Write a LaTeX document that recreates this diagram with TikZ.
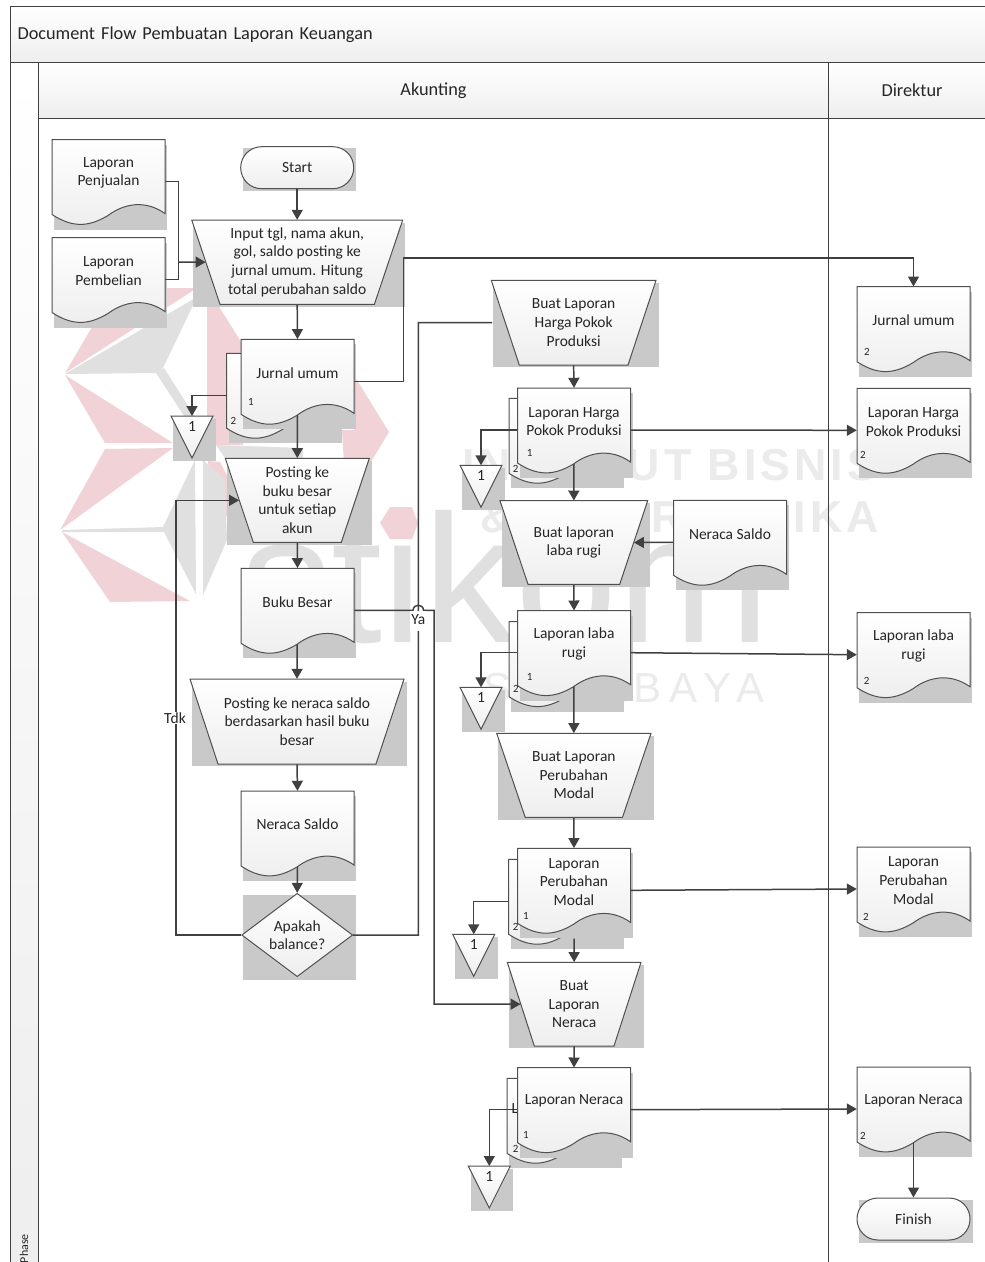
\documentclass[tikz,border=0pt]{standalone}
\usepackage{fontspec}
\setmainfont{Carlito}
\newfontfamily\wmboldfont[LetterSpace=9]{Liberation Sans Bold}
\newfontfamily\wmcityfont[LetterSpace=20]{Liberation Sans}
\newfontfamily\wmlogofont{Liberation Sans}
\usetikzlibrary{arrows.meta,shapes.geometric}
\pgfdeclarelayer{wmlayer}
\pgfdeclarelayer{flowlayer}
\pgfsetlayers{wmlayer,flowlayer,main}
\definecolor{linegray}{HTML}{505050}
\definecolor{flowgray}{HTML}{404040}
\definecolor{shadowgray}{HTML}{C9C9C9}
\definecolor{shapeend}{HTML}{EEEEEE}
\definecolor{wmpink}{HTML}{F1D3D7}
\definecolor{wmgray}{HTML}{E0E0E0}
\definecolor{wmtext}{HTML}{EBEBEB}
\tikzset{
  boxline/.style={draw=linegray,line width=1pt,top color=white,bottom color=shapeend},
  boxshadow/.style={fill=shadowgray},
  boxtext/.style={inner sep=0pt,align=center,text=black!85,font=\fontsize{15.5}{18.6}\selectfont},
  docbox/.style={inner sep=0pt,minimum width=113pt,minimum height=84pt},
  numtext/.style={inner sep=0pt,text=black!85,font=\fontsize{11}{12}\selectfont},
  termbox/.style={boxline,boxtext,rounded corners=20.9pt,minimum width=113pt,minimum height=42pt},
  decisionbox/.style={boxline,boxtext,diamond,aspect=1.33,minimum width=111pt,minimum height=83.4pt},
  lanehead/.style={draw=flowgray,line width=1pt,top color=white,bottom color=shapeend,inner sep=0pt,
    text=black!85,font=\fontsize{18.3}{22}\selectfont},
  flowplain/.style={draw=flowgray,line width=1.5pt},
  flow/.style={flowplain,-{Triangle[width=11pt,length=10pt]}},
  flowtext/.style={fill=white,inner sep=1pt,text=black!85,font=\fontsize{15.5}{18}\selectfont},
}
% document shape, top left corner at (#1,#2)
\newcommand{\docoutline}[2]{
  \draw[boxline] (#1,#2) -- (#1+113,#2) -- (#1+113,#2+74)
    .. controls (#1+93,#2+60) and (#1+72,#2+64) .. (#1+56,#2+76)
    .. controls (#1+36,#2+88) and (#1+20,#2+88) .. (#1,#2+75) -- cycle;
}
\newcommand{\lapdoc}[4]{
  \begin{pgfonlayer}{wmlayer}
    \fill[boxshadow] (#2+2.3,#3+5) rectangle (#2+115.3,#3+90);
  \end{pgfonlayer}
  \docoutline{#2}{#3}
  \node[docbox] (#1) at (#2+56.5,#3+42) {};
  \node[boxtext] (#1t) at (#2+56.5,#3+33.5) {#4};
}
\newcommand{\backdoc}[3]{
  \begin{pgfonlayer}{wmlayer}
    \fill[boxshadow] (#2+2.3,#3+5) rectangle (#2+115.3,#3+90);
    \docoutline{#2}{#3}
    \node[docbox] (#1) at (#2+56.5,#3+42) {};
  \end{pgfonlayer}
}
% name, left, right, top, bottom, inset, text
\newcommand{\manop}[7]{
  \begin{pgfonlayer}{wmlayer}
    \fill[boxshadow] (#2+1.7,#4+2.5) rectangle (#3+2.5,#5+2.4);
  \end{pgfonlayer}
  \draw[boxline] (#2,#4) -- (#3,#4) -- (#3-#6,#5) -- (#2+#6,#5) -- cycle;
  \node[boxtext,minimum width={#3-#2-#6},minimum height={#5-#4}] (#1) at ({(#2+#3)/2},{(#4+#5)/2}) {#7};
}
\newcommand{\offpage}[3]{
  \begin{pgfonlayer}{wmlayer}
    \fill[boxshadow] (#2+2.3,#3+2.5) rectangle (#2+45,#3+44.5);
  \end{pgfonlayer}
  \draw[boxline] (#2,#3) -- (#2+42,#3) -- (#2+21,#3+42) -- cycle;
  \node[boxtext,minimum height=20pt,anchor=north] (#1) at (#2+21,#3) {1};
}

\begin{document}
\begin{tikzpicture}[x=1pt,y=-1pt]
\useasboundingbox (0,0) rectangle (985,1262);

% watermark and lanes
\begin{pgfonlayer}{wmlayer}
\fill[white] (0,0) rectangle (985,1262);
\fill[wmpink] (65,373) -- (115,288) -- (197,288) -- cycle;
\fill[wmpink] (65,375) -- (105,443) -- (173,443) -- cycle;
\fill[wmpink] (105,449) -- (173,448) -- (60,530) -- cycle;
\fill[wmpink] (62,532) -- (190,601) -- (110,602) -- cycle;
\fill[wmpink] (207,305) -- (218,305) -- (243,345) -- (243,445) -- (207,445) -- cycle;
\fill[wmpink] (208,461) -- (220,462) -- (240,500) -- (215,530) -- cycle;
\fill[wmpink] (355,377) -- (389,432) -- (360,480) -- (345,480) -- (342,430) -- (354,430) -- cycle;
\fill[wmgray] (65,374) -- (197,297) -- (163,368) -- (156,373) -- cycle;
\fill[wmgray] (156,373) -- (164,368) -- (197,420) -- (190,425) -- cycle;
\fill[wmgray] (62,530) -- (163,527) -- (195,460) -- (196,594) -- (164,532) -- (62,532) -- cycle;
\fill[wmgray] (203,460) -- (203,595) -- (227,540) -- (225,480) -- cycle;
\fill[wmgray] (216,445) -- (303,448) -- (303,458) -- (225,458) -- cycle;
\node[anchor=base west,inner sep=0pt,text=wmgray,xscale=.965,yscale=.96,font=\wmlogofont\fontsize{190}{190}\selectfont] (wmlogo) at (240,642) {stikom};
\fill[wmpink] (380,523) -- (390,507) -- (412,507) -- (418,523) -- (412,539) -- (390,539) -- cycle;
\node[anchor=base west,inner sep=0pt,text=wmtext,font=\wmboldfont\fontsize{44.7}{46}\selectfont] (wmline1) at (462,480) {INSTITUT BISNIS};
\node[anchor=base west,inner sep=0pt,text=wmtext,font=\wmboldfont\fontsize{44.7}{46}\selectfont] (wmline2) at (480,532) {\& INFORMATIKA};
\node[anchor=base west,inner sep=0pt,text=wmtext,font=\wmcityfont\fontsize{42}{44}\selectfont] (wmline3) at (483,702) {SURABAYA};

\draw[lanehead] (10,62) rectangle (38,1275);
\draw[draw=flowgray,line width=1pt] (828,118) -- (828,1275);
\node[lanehead,anchor=north west,minimum width=985pt,minimum height=56pt,text width=971pt,inner xsep=7pt,align=left] (titlebar) at (10,6) {Document Flow Pembuatan Laporan Keuangan};
\node[lanehead,anchor=north west,minimum width=790pt,minimum height=56pt] (akunting) at (38,62) {Akunting};
\node[lanehead,anchor=north west,minimum width=170pt,minimum height=56pt,text width=170pt,align=left] (direktur) at (828,62) {\hspace{53pt}Direktur};
\node[numtext,font=\fontsize{12}{13}\selectfont,rotate=90,anchor=east] (phase) at (24,1234) {Phase};
\fill[boxshadow] (243,148) rectangle (356,190.7);
\fill[boxshadow] (859.3,1199.5) rectangle (972.5,1242.5);
\fill[boxshadow] (243,895) rectangle (355.7,980);
\end{pgfonlayer}

% kolom kiri
\lapdoc{lapjual}{52}{139.5}{Laporan\\Penjualan}
\lapdoc{lapbeli}{52}{237.5}{Laporan\\Pembelian}
\node[termbox] (start) at (297.2,167.7) {Start};
\manop{inputjurnal}{191.7}{402.7}{220}{304.3}{28.3}{Input tgl, nama akun,\\gol, saldo posting ke\\jurnal umum. Hitung\\total perubahan saldo}
\backdoc{jurnalback}{226.7}{353.3}
\lapdoc{jurnal}{241}{339.3}{Jurnal umum}
\node[numtext] (jurnaln1) at (251,402) {1};
\node[numtext] (jurnaln2) at (233.5,421) {2};
\offpage{off1}{171}{416}
\manop{posting}{225.3}{369.3}{458.3}{542.3}{28}{Posting ke\\buku besar\\untuk setiap\\akun}
\lapdoc{bukubesar}{241}{568.3}{Buku Besar}
\manop{postingneraca}{190}{404}{679}{764}{28}{Posting ke neraca saldo\\berdasarkan hasil buku\\besar}
\lapdoc{neracasaldo}{241}{791}{Neraca Saldo}
\node[decisionbox] (balance) at (297.2,935) {Apakah\\balance?};

% kolom tengah
\manop{buathpp}{491.3}{656}{280.3}{365}{28}{Buat Laporan\\Harga Pokok\\Produksi}
\backdoc{laphppback}{509}{398.3}
\lapdoc{laphpp}{517.5}{388}{Laporan Harga\\Pokok Produksi}
\node[numtext] (laphppn1) at (529.7,453.3) {1};
\node[numtext] (laphppn2) at (515.7,469.3) {2};
\offpage{off2}{460}{465.3}
\manop{buatlaba}{500}{647.7}{500.7}{584.3}{28}{Buat laporan\\laba rugi}
\lapdoc{neracamid}{673.5}{500.3}{Neraca Saldo}
\backdoc{laplababack}{509}{621.7}
\lapdoc{laplaba}{517.5}{610.7}{Laporan laba\\rugi}
\node[numtext] (laplaban1) at (529.7,677.3) {1};
\node[numtext] (laplaban2) at (516,689) {2};
\offpage{off3}{460}{687.3}
\manop{buatmodal}{496.7}{651}{733.3}{817.3}{28.5}{Buat Laporan\\Perubahan\\Modal}
\backdoc{lapmodalback}{508.7}{859.3}
\lapdoc{lapmodal}{517.5}{848.3}{Laporan\\Perubahan\\Modal}
\node[numtext] (lapmodaln1) at (526,915.7) {1};
\node[numtext] (lapmodaln2) at (515.7,927.3) {2};
\offpage{off4}{452.7}{934.3}
\manop{buatneraca}{507.3}{641}{962.3}{1046}{27}{Buat\\Laporan\\Neraca}
\backdoc{lapneracaback}{507}{1078.3}
\node[boxtext] (lapneracacut) at (515,1109) {L};
\lapdoc{lapneraca}{517.5}{1067.7}{Laporan Neraca}
\node[numtext] (lapneracan1) at (526,1135.3) {1};
\node[numtext] (lapneracan2) at (515.7,1149.3) {2};
\offpage{off5}{468.3}{1166}

% kolom direktur
\lapdoc{dirjurnal}{857}{286.7}{Jurnal umum}
\node[numtext] (dirjurnaln) at (867,352) {2};
\lapdoc{dirhpp}{857}{388.3}{Laporan Harga\\Pokok Produksi}
\node[numtext] (dirhppn) at (863,455) {2};
\lapdoc{dirlaba}{857}{612.7}{Laporan laba\\rugi}
\node[numtext] (dirlaban) at (866.7,680.7) {2};
\lapdoc{dirmodal}{857}{847}{Laporan\\Perubahan\\Modal}
\node[numtext] (dirmodaln) at (866,917) {2};
\lapdoc{dirneraca}{857}{1067}{Laporan Neraca}
\node[numtext] (dirneracan) at (863,1136) {2};
\node[termbox] (finish) at (913.5,1219) {Finish};

\coordinate (joinlap) at (178.5,262);
\coordinate (jurnalbend) at (403.3,258);
\coordinate (yabend) at (418.3,322.5);
\coordinate (jumpa) at (413,610.3);
\coordinate (jumpb) at (423.6,610.3);
\coordinate (yaright) at (434,610.3);
\coordinate (tdkbend) at (176,935);

\begin{pgfonlayer}{flowlayer}
\draw[flowplain] (lapjual.east) -| (joinlap);
\draw[flowplain] (lapbeli.east) -| (joinlap);
\draw[flow] (joinlap) -- (inputjurnal.west);
\draw[flow] (start.south) -- (inputjurnal.north);
\draw[flow] (inputjurnal.south) -- (jurnal.north);
\draw[flow] (jurnal.east) -| (jurnalbend) -| (dirjurnal.north);
\draw[flow] (jurnalback.west) -| (off1.north);
\draw[flow] (jurnal.center) -- (posting.north);
\draw[flow] (posting.south) -- (bukubesar.north);
\draw[flow] (bukubesar.center) -- (postingneraca.north);
\draw[flow] (postingneraca.south) -- (neracasaldo.north);
\draw[flow] (neracasaldo.center) -- (balance.north);
\draw[flow] (balance.west) -- (tdkbend) |- (posting.west);
\draw[flowplain,shorten >=13pt] (balance.east) -| (yabend) -- (buathpp.west);
\draw[flow] (bukubesar.east) -- (jumpa) .. controls (413.5,603.5) and (423,603.5) .. (jumpb) -- (yaright) |- (buatneraca.west);
\draw[flow] (buathpp.south) -- (laphpp.north);
\draw[flow] (laphpp.center) -- (buatlaba.north);
\draw[flow] (laphpp.east) -- (dirhpp.west);
\draw[flow] (laphpp.west) -| (off2.north);
\draw[flow] (neracamid.west) -- (buatlaba.east);
\draw[flow] (buatlaba.south) -- (laplaba.north);
\draw[flow] (laplaba.center) -- (buatmodal.north);
\draw[flow] (laplaba.east) -- (dirlaba.west);
\draw[flow] (laplaba.west) -| (off3.north);
\draw[flow] (buatmodal.south) -- (lapmodal.north);
\draw[flow,shorten <=6pt] (lapmodal.south) -- (buatneraca.north);
\draw[flow] (lapmodal.east) -- (dirmodal.west);
\draw[flow] (lapmodalback.west) -| (off4.north);
\draw[flow] (buatneraca.south) -- (lapneraca.north);
\draw[flow] (lapneraca.east) -- (dirneraca.west);
\draw[flow] (lapneraca.west) -| (off5.north);
\draw[flow] (dirneraca.center) -- (finish.north);
\end{pgfonlayer}

\node[flowtext,minimum width=14pt,minimum height=20pt] (ya) at (418.3,621) {\raisebox{3pt}{Ya}};
\node[flowtext] (tdk) at (175,718) {Tdk};
\end{tikzpicture}
\end{document}
